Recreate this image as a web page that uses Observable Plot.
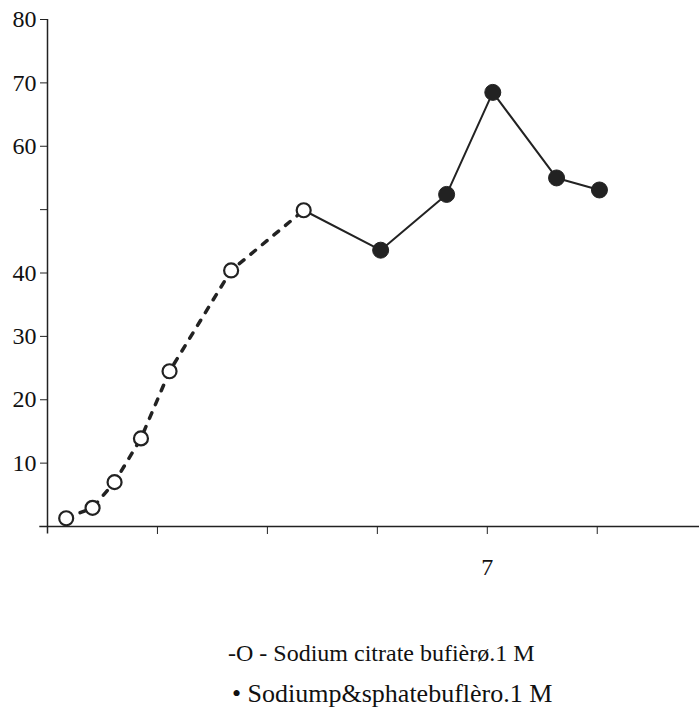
<!DOCTYPE html>
<html>
<head>
<meta charset="utf-8">
<script src="https://cdn.jsdelivr.net/npm/d3@7"></script>
<script src="https://cdn.jsdelivr.net/npm/@observablehq/plot@0.6"></script>
<style>
  body { margin: 0; background: #fff; }
  #wrap { position: relative; width: 699px; height: 708px; overflow: hidden; }
  .leg { position: absolute; left: 0; width: 699px; font-family: "Liberation Serif", "Times New Roman", serif; font-size: 24px; line-height: 28px; color: #111; white-space: nowrap; }
</style>
</head>
<body>
<div id="wrap"></div>
<script>
// Data
const citrateX = [3.17, 3.41, 3.61, 3.85, 4.11, 4.67, 5.33];
const citrateY = [1.3, 2.95, 7.0, 13.9, 24.5, 40.4, 49.9];
const phosphateX = [6.03, 6.63, 7.05, 7.63, 8.02];
const phosphateY = [43.6, 52.4, 68.5, 55.0, 53.1];
const yTicks = [10, 20, 30, 40, 50, 60, 70, 80];
const yTickLabels = ["10", "20", "30", "40", "", "60", "70", "80"];
const xTicks = [4, 5, 6, 7, 8];
const xTickLabels = ["", "", "", "7", ""];
const legendCitrate = "-O - Sodium citrate bufièrø.1 M";
const legendPhosphate = "• Sodiump&sphatebuflèro.1 M";

const citrate = citrateX.map((x, i) => ({x, y: citrateY[i]}));
const phosphate = phosphateX.map((x, i) => ({x, y: phosphateY[i]}));
const solidLine = [citrate[citrate.length - 1], ...phosphate];

const ink = "#222";
const serif = "'Liberation Serif', 'Times New Roman', serif";
const chart = Plot.plot({
  width: 699,
  height: 600,
  marginLeft: 47,
  marginRight: 0,
  marginTop: 19,
  marginBottom: 74,
  style: {fontFamily: serif, fontSize: "24px", color: "#111", background: "#fff"},
  x: {domain: [3, 8.93], axis: null},
  y: {domain: [0, 80], axis: null},
  marks: [
    Plot.axisY({ticks: yTicks, tickFormat: d => yTickLabels[yTicks.indexOf(d)], tickSize: 7, tickPadding: 4, stroke: ink, label: null, fontSize: 24, fontFamily: serif}),
    Plot.axisX({ticks: xTicks, tickFormat: d => xTickLabels[xTicks.indexOf(d)], tickSize: 8, tickPadding: 23, stroke: ink, label: null, fontSize: 24, fontFamily: serif}),
    Plot.ruleX([3], {y1: -1.2, y2: 80, stroke: ink, strokeWidth: 1.5}),
    Plot.ruleY([0], {x1: 2.93, x2: 8.93, stroke: ink, strokeWidth: 1.5}),
    Plot.line(citrate, {x: "x", y: "y", stroke: ink, strokeWidth: 3.5, strokeDasharray: "6 9"}),
    Plot.line(solidLine, {x: "x", y: "y", stroke: ink, strokeWidth: 2}),
    Plot.dot(citrate, {x: "x", y: "y", r: 7, fill: "#fff", stroke: ink, strokeWidth: 2.2}),
    Plot.dot(phosphate, {x: "x", y: "y", r: 8, fill: ink, stroke: ink, strokeWidth: 1})
  ]
});
const wrap = document.getElementById("wrap");
wrap.appendChild(chart);

const l1 = document.createElement("div");
l1.className = "leg";
l1.style.top = "639px";
l1.style.paddingLeft = "228px";
l1.textContent = legendCitrate;
wrap.appendChild(l1);
const l2 = document.createElement("div");
l2.className = "leg";
l2.style.top = "680px";
l2.style.paddingLeft = "232px";
l2.style.fontSize = "26px";
l2.textContent = legendPhosphate;
wrap.appendChild(l2);
</script>
</body>
</html>
